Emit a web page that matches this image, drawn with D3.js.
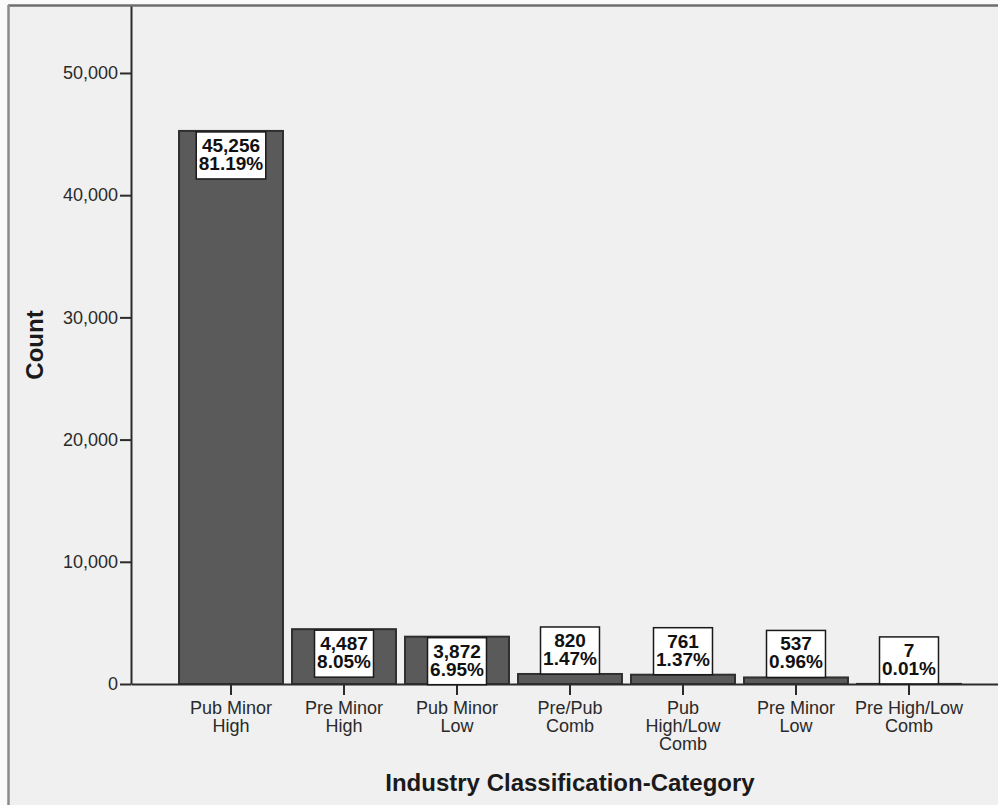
<!DOCTYPE html>
<html>
<head>
<meta charset="utf-8">
<script src="https://cdn.jsdelivr.net/npm/d3@7"></script>
<style>
  html, body { margin: 0; padding: 0; background: #fafafa; }
  svg { display: block; font-family: "Liberation Sans", Arial, sans-serif; }
</style>
</head>
<body>
<svg id="chart" width="998" height="805"></svg>
<script>
// Frequency of each industry classification category
const categories = [
  "Pub Minor High",
  "Pre Minor High",
  "Pub Minor Low",
  "Pre/Pub Comb",
  "Pub High/Low Comb",
  "Pre Minor Low",
  "Pre High/Low Comb"
];
const counts = [45256, 4487, 3872, 820, 761, 537, 7];
const percents = [81.19, 8.05, 6.95, 1.47, 1.37, 0.96, 0.01];
const yTicks = [0, 10000, 20000, 30000, 40000, 50000];

const svg = d3.select("#chart");
const W = 998, H = 805;

// Panel background and frame
svg.append("rect").attr("x", 8).attr("y", 5).attr("width", W - 8).attr("height", H - 5)
  .attr("fill", "#f0f0f0");
svg.append("line").attr("x1", 8).attr("x2", W).attr("y1", 5.5).attr("y2", 5.5)
  .attr("stroke", "#6e6e6e").attr("stroke-width", 2.5);
svg.append("line").attr("x1", 8.5).attr("x2", 8.5).attr("y1", 5).attr("y2", H)
  .attr("stroke", "#8a8a8a").attr("stroke-width", 2.5);

const plot = { left: 131, right: 1009, top: 6, bottom: 684 };

const x = d3.scaleBand()
  .domain(categories)
  .range([plot.left, plot.right])
  .paddingInner(0.08)
  .paddingOuter(0.425);

const y = d3.scaleLinear()
  .domain([0, 55480])
  .range([plot.bottom, plot.top]);

const data = categories.map((c, i) => ({ cat: c, count: counts[i], pct: percents[i] }));

// Bars
svg.append("g").selectAll("rect").data(data).join("rect")
  .attr("x", d => x(d.cat))
  .attr("y", d => y(d.count))
  .attr("width", x.bandwidth())
  .attr("height", d => y(0) - y(d.count))
  .attr("fill", "#5a5a5a")
  .attr("stroke", "#2f2f2f")
  .attr("stroke-width", 2);

// Y axis
const yAxis = svg.append("g")
  .attr("transform", `translate(${plot.left},0)`)
  .call(d3.axisLeft(y).tickValues(yTicks).tickFormat(d3.format(",")).tickSize(11).tickSizeOuter(0).tickPadding(2));
yAxis.select(".domain").attr("stroke", "#2b2b2b").attr("stroke-width", 2);
yAxis.selectAll(".tick line").attr("stroke", "#2b2b2b").attr("stroke-width", 2);
yAxis.selectAll(".tick text")
  .attr("font-size", 18).attr("fill", "#2a2a2a")
  .attr("font-family", "'Liberation Sans', Arial, sans-serif");

// X axis
const xAxis = svg.append("g")
  .attr("transform", `translate(0,${plot.bottom})`)
  .call(d3.axisBottom(x).tickSize(11).tickSizeOuter(0).tickPadding(3));
xAxis.select(".domain").attr("stroke", "#2b2b2b").attr("stroke-width", 2);
xAxis.selectAll(".tick line").attr("stroke", "#2b2b2b").attr("stroke-width", 2);
xAxis.selectAll(".tick text")
  .attr("font-size", 18).attr("fill", "#2a2a2a")
  .attr("font-family", "'Liberation Sans', Arial, sans-serif")
  .attr("dy", null).attr("y", 0)
  .text(null)
  .each(function (d) {
    // wrap category names to the band step
    const t = d3.select(this);
    const words = d.split(" ");
    const lines = [];
    let cur = [];
    const probe = t.append("tspan");
    words.forEach(w => {
      const trial = cur.concat([w]).join(" ");
      probe.text(trial);
      if (cur.length && probe.node().getComputedTextLength() > x.step() - 2) {
        lines.push(cur.join(" "));
        cur = [w];
      } else {
        cur.push(w);
      }
    });
    lines.push(cur.join(" "));
    probe.remove();
    lines.forEach((ln, i) => {
      t.append("tspan").attr("x", 0).attr("y", 30 + i * 18).text(ln);
    });
  });

// Value labels: count and percent in a white box
const boxH = 47;
const fmt = d3.format(",");
const labels = svg.append("g").selectAll("g").data(data).join("g");
labels.each(function (d) {
  const g = d3.select(this);
  const cx = x(d.cat) + x.bandwidth() / 2;
  const barH = y(0) - y(d.count);
  const top = barH >= boxH ? y(d.count) + 1 : y(d.count) - boxH;
  const rect = g.append("rect");
  const t = g.append("text")
    .attr("text-anchor", "middle")
    .attr("font-size", 19).attr("font-weight", "bold").attr("fill", "#111");
  t.append("tspan").attr("x", cx).attr("y", top + 20).text(fmt(d.count));
  t.append("tspan").attr("x", cx).attr("y", top + 38).text(d.pct.toFixed(2) + "%");
  const w = Math.max(56, t.node().getBBox().width + 5);
  rect.attr("x", cx - w / 2).attr("y", top).attr("width", w).attr("height", boxH)
    .attr("fill", "#ffffff").attr("stroke", "#1a1a1a").attr("stroke-width", 1.5);
});

// Axis titles
svg.append("text")
  .attr("x", (plot.left + plot.right) / 2).attr("y", 791)
  .attr("text-anchor", "middle")
  .attr("font-size", 24).attr("font-weight", "bold").attr("fill", "#1a1a1a")
  .text("Industry Classification-Category");

svg.append("text")
  .attr("transform", `translate(43,${(plot.top + plot.bottom) / 2}) rotate(-90)`)
  .attr("text-anchor", "middle")
  .attr("font-size", 24).attr("font-weight", "bold").attr("fill", "#1a1a1a")
  .text("Count");
</script>
</body>
</html>
